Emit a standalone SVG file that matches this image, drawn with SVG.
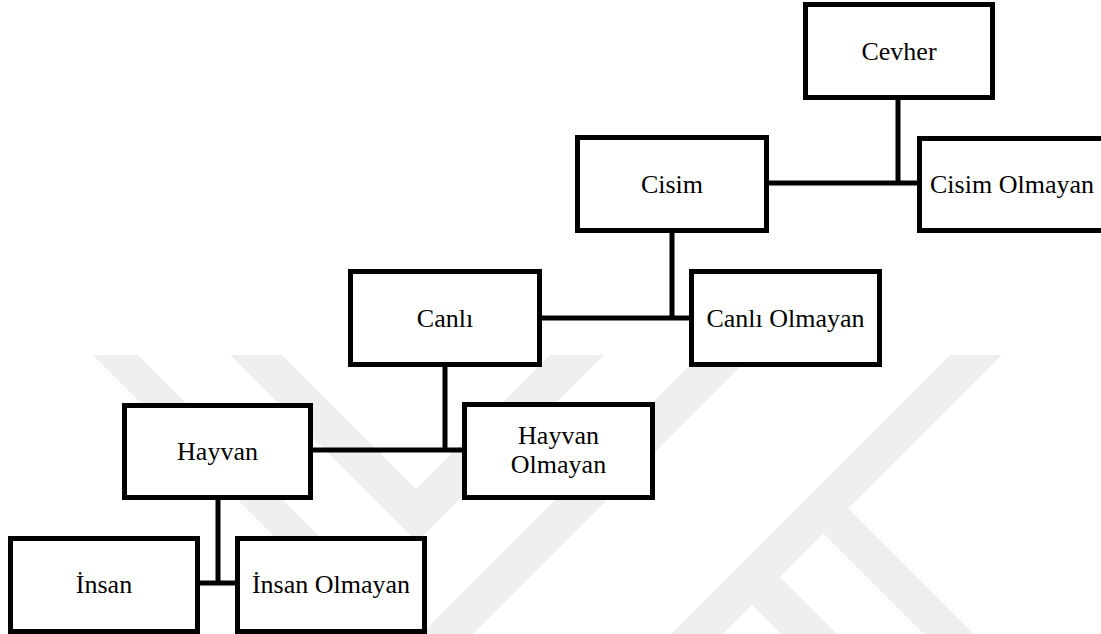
<svg xmlns="http://www.w3.org/2000/svg" width="1101" height="634" viewBox="0 0 1101 634">
  <style>
    .box { fill: #ffffff; stroke: #000000; stroke-width: 5; }
    .lbl { font-family: "Liberation Serif", "Times New Roman", serif; font-size: 26px; fill: #000000; text-anchor: middle; }
    .link { stroke: #000000; stroke-width: 5; fill: none; }
    .mark { fill: #efefef; }
  </style>

  <rect width="1101" height="634" fill="#ffffff"/>

  <!-- faint background emblem -->
  <g id="emblem">
    <polygon class="mark" points="93,355 138,355 417,634 372,634"/>
    <polygon class="mark" points="230,355 282,355 416,489 550,355 604,355 417,542"/>
    <polygon class="mark" points="700,355 752,355 473,634 421,634"/>
    <polygon class="mark" points="950,355 1002,355 723,634 671,634"/>
    <polygon class="mark" points="848.5,508.5 974,634 924,634 823.5,533.5"/>
    <polygon class="mark" points="780,577 837,634 781,634 750,603"/>
  </g>

  <!-- tree connectors -->
  <g id="connectors">
    <path class="link" d="M898,100 V185.5 M769,183 H917"/>
    <path class="link" d="M672,233 V320.5 M542,318 H689"/>
    <path class="link" d="M445,367 V452.5 M313,450 H462"/>
    <path class="link" d="M218,500 V585.5 M200,583 H235"/>
  </g>

  <g id="cevher">
    <rect class="box" x="805.5" y="4.5" width="187" height="93"/>
    <text class="lbl" x="899" y="60">Cevher</text>
  </g>
  <g id="cisim">
    <rect class="box" x="577.5" y="137.5" width="189" height="93"/>
    <text class="lbl" x="672" y="192.5">Cisim</text>
  </g>
  <g id="cisim-olmayan">
    <rect class="box" x="919.5" y="138.5" width="190" height="92"/>
    <text class="lbl" x="1012" y="192.5">Cisim Olmayan</text>
  </g>
  <g id="canli">
    <rect class="box" x="350.5" y="271.5" width="189" height="93"/>
    <text class="lbl" x="445" y="326.5">Canlı</text>
  </g>
  <g id="canli-olmayan">
    <rect class="box" x="691.5" y="271.5" width="188" height="93"/>
    <text class="lbl" x="785.5" y="326.5">Canlı Olmayan</text>
  </g>
  <g id="hayvan">
    <rect class="box" x="124.5" y="405.5" width="186" height="92"/>
    <text class="lbl" x="217.5" y="460">Hayvan</text>
  </g>
  <g id="hayvan-olmayan">
    <rect class="box" x="464.5" y="404.5" width="188" height="93"/>
    <text class="lbl" x="558.5" y="444">Hayvan</text>
    <text class="lbl" x="558.5" y="473">Olmayan</text>
  </g>
  <g id="insan">
    <rect class="box" x="10.5" y="538.5" width="187" height="93"/>
    <text class="lbl" x="104" y="593">İnsan</text>
  </g>
  <g id="insan-olmayan">
    <rect class="box" x="237.5" y="538.5" width="187" height="93"/>
    <text class="lbl" x="331" y="593">İnsan Olmayan</text>
  </g>
</svg>
